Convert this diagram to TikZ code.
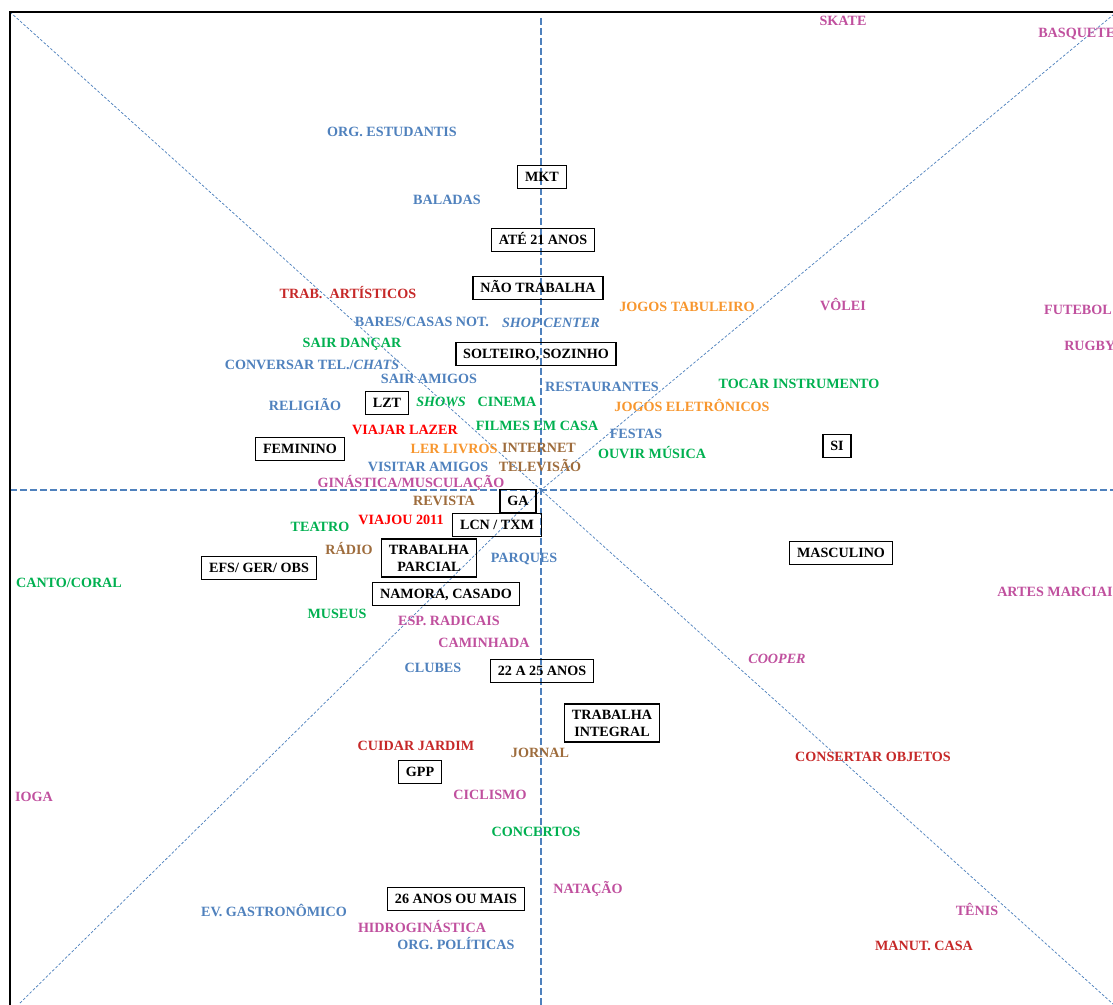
\documentclass[tikz,border=0pt]{standalone}
\usepackage{fontspec}
\setmainfont{Liberation Serif}
\usepackage{xcolor}
\usepackage{tikz}

\definecolor{azul}{HTML}{4F81BD}
\definecolor{verde}{HTML}{00B050}
\definecolor{vermelho}{HTML}{C62828}
\definecolor{vermclaro}{HTML}{FF0000}
\definecolor{laranja}{HTML}{F7962E}
\definecolor{marrom}{HTML}{9E6C3C}
\definecolor{rosa}{HTML}{C0509E}

\begin{document}
\begin{tikzpicture}
  [x=0.75pt,y=-0.75pt,every node/.style={font=\bfseries\fontsize{10.6}{12.75}\selectfont,inner sep=0pt,text height=7pt,text depth=0pt}, % mapa de correspondencia: eixos, quadrantes e categorias
   caixa/.style={draw=black,line width=1pt,inner xsep=5.5pt,inner ysep=4.9pt},
   caixa2/.style={caixa,align=center,text height={},inner ysep=4.4pt},
   eixo/.style={azul,line width=0.8pt,dash pattern=on 5pt off 2.5pt},
   diag/.style={azul,line width=0.55pt,dash pattern=on 2pt off 1.4pt}]

    \useasboundingbox (0,0) rectangle (1113,1005);

    \coordinate (o) at (541,490);
    \coordinate (n) at (541,18);
    \coordinate (s) at (541,1005);
    \coordinate (w) at (10,490);
    \coordinate (e) at (1113,490);
    \coordinate (nw) at (10,12);
    \coordinate (se) at (1113,1004);
    \coordinate (sw) at (20,1003);
    \coordinate (ne) at (1113,15);

    \draw[eixo] (n) -- (s);
    \draw[eixo] (w) -- (e);
    \draw[diag] (nw) -- (o) -- (se);
    \draw[diag] (sw) -- (o) -- (ne);

    % moldura
    \draw[line width=1.5pt] (10,1005) -- (10,12) -- (1113,12);

    % caixas
    \node[caixa] (mkt) at (542,177) {MKT};
    \node[caixa] (ate21) at (543,240) {ATÉ 21 ANOS};
    \node[caixa] (naotrab) at (538,288) {NÃO TRABALHA};
    \node[caixa] (solteiro) at (536,354) {SOLTEIRO, SOZINHO};
    \node[caixa] (lzt) at (387,403) {LZT};
    \node[caixa] (fem) at (300,449) {FEMININO};
    \node[caixa] (si) at (837,446) {SI};
    \node[caixa] (ga) at (518,501) {GA};
    \node[caixa] (lcn) at (497,525) {LCN / TXM};
    \node[caixa2] (trabparc) at (429,558) {TRABALHA\\PARCIAL};
    \node[caixa] (efs) at (259,568) {EFS/ GER/ OBS};
    \node[caixa] (masc) at (841,553) {MASCULINO};
    \node[caixa] (namora) at (446,594) {NAMORA, CASADO};
    \node[caixa] (a22) at (542,671) {22 A 25 ANOS};
    \node[caixa2] (trabint) at (612,723) {TRABALHA\\INTEGRAL};
    \node[caixa] (gpp) at (420,772) {GPP};
    \node[caixa] (a26) at (456,899) {26 ANOS OU MAIS};

    % azul
    \node[azul] (orgest) at (392,132) {ORG. ESTUDANTIS};
    \node[azul] (baladas) at (447,200) {BALADAS};
    \node[azul] (bares) at (422,322) {BARES/CASAS NOT.};
    \node[azul] (shop) at (551,323) {\itshape SHOP CENTER};
    \node[azul] (conversar) at (312,365) {CONVERSAR TEL./\itshape CHATS};
    \node[azul] (sairam) at (429,379) {SAIR AMIGOS};
    \node[azul] (restaur) at (602,387) {RESTAURANTES};
    \node[azul] (religiao) at (305,406) {RELIGIÃO};
    \node[azul] (festas) at (636,434) {FESTAS};
    \node[azul] (visitar) at (428,467) {VISITAR AMIGOS};
    \node[azul] (parques) at (524,558) {PARQUES};
    \node[azul] (clubes) at (433,668) {CLUBES};
    \node[azul] (gastro) at (274,912) {EV. GASTRONÔMICO};
    \node[azul] (orgpol) at (456,945) {ORG. POLÍTICAS};

    % verde
    \node[verde] (dancar) at (352,343) {SAIR DANÇAR};
    \node[verde] (shows) at (441,402) {\itshape SHOWS};
    \node[verde] (cinema) at (507,402) {CINEMA};
    \node[verde] (filmes) at (537,426) {FILMES EM CASA};
    \node[verde] (tocar) at (799,384) {TOCAR INSTRUMENTO};
    \node[verde] (ouvir) at (652,454) {OUVIR MÚSICA};
    \node[verde] (teatro) at (320,527) {TEATRO};
    \node[verde] (canto) at (69,583) {CANTO/CORAL};
    \node[verde] (museus) at (337,614) {MUSEUS};
    \node[verde] (concertos) at (536,832) {CONCERTOS};

    % vermelho
    \node[vermelho] (artist) at (348,294) {TRAB. \ ARTÍSTICOS};
    \node[vermelho] (jardim) at (416,746) {CUIDAR JARDIM};
    \node[vermelho] (consertar) at (873,757) {CONSERTAR OBJETOS};
    \node[vermelho] (manut) at (924,946) {MANUT. CASA};
    \node[vermclaro] (viajar) at (405,430) {VIAJAR LAZER};
    \node[vermclaro] (viajou) at (401,520) {VIAJOU 2011};

    % laranja
    \node[laranja] (tabul) at (687,307) {JOGOS TABULEIRO};
    \node[laranja] (eletr) at (692,407) {JOGOS ELETRÔNICOS};
    \node[laranja] (livros) at (454,449) {LER LIVROS};

    % marrom
    \node[marrom] (internet) at (539,448) {INTERNET};
    \node[marrom] (tv) at (540,467) {TELEVISÃO};
    \node[marrom] (revista) at (444,501) {REVISTA};
    \node[marrom] (radio) at (349,550) {RÁDIO};
    \node[marrom] (jornal) at (540,753) {JORNAL};

    % rosa
    \node[rosa] (skate) at (843,21) {SKATE};
    \node[rosa,anchor=west] (basquete) at (1038,33) {BASQUETE};
    \node[rosa] (volei) at (843,306) {VÔLEI};
    \node[rosa] (futebol) at (1078,310) {FUTEBOL};
    \node[rosa,anchor=west] (rugby) at (1064,346) {RUGBY};
    \node[rosa] (ginastica) at (411,483) {GINÁSTICA/MUSCULAÇÃO};
    \node[rosa,anchor=west] (artes) at (997,592) {ARTES MARCIAIS};
    \node[rosa] (radicais) at (449,621) {ESP. RADICAIS};
    \node[rosa] (caminhada) at (484,643) {CAMINHADA};
    \node[rosa] (cooper) at (777,659) {\itshape COOPER};
    \node[rosa] (ciclismo) at (490,795) {CICLISMO};
    \node[rosa] (iogo) at (34,797) {IOGA};
    \node[rosa] (natacao) at (588,889) {NATAÇÃO};
    \node[rosa] (tenis) at (977,911) {TÊNIS};
    \node[rosa] (hidro) at (422,928) {HIDROGINÁSTICA};

\end{tikzpicture}
\end{document}
